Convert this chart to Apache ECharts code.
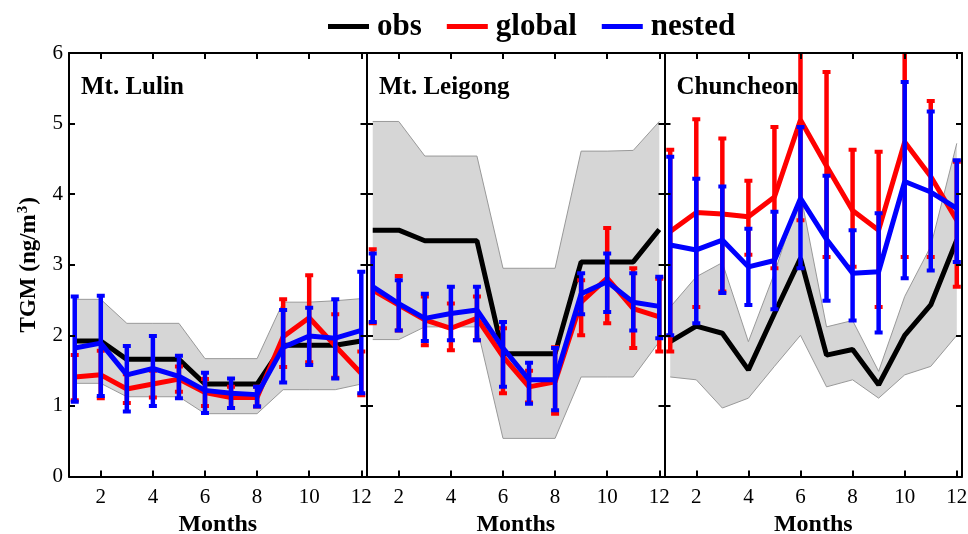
<!DOCTYPE html>
<html>
<head>
<meta charset="utf-8">
<script src="https://cdn.jsdelivr.net/npm/echarts@6/dist/echarts.min.js"></script>
<style>
  html, body { margin: 0; padding: 0; background: #fff; }
  #chart { width: 968px; height: 534px; }
</style>
</head>
<body>
<div id="chart"></div>
<script>
// Months and tick labels
var months = [1, 2, 3, 4, 5, 6, 7, 8, 9, 10, 11, 12];
var monthTicks = [2, 4, 6, 8, 10, 12];
var stations = ['Mt. Lulin', 'Mt. Leigong', 'Chuncheon'];

// Mt. Lulin
var lulinObs      = [1.92, 1.92, 1.66, 1.66, 1.66, 1.31, 1.31, 1.31, 1.86, 1.86, 1.86, 1.92];
var lulinObsHi    = [2.51, 2.51, 2.17, 2.17, 2.17, 1.67, 1.67, 1.67, 2.47, 2.47, 2.49, 2.52];
var lulinObsLo    = [1.32, 1.32, 1.13, 1.13, 1.13, 0.89, 0.89, 0.89, 1.23, 1.23, 1.23, 1.31];
var lulinGlobal   = [1.41, 1.44, 1.24, 1.31, 1.38, 1.19, 1.12, 1.12, 1.98, 2.25, 1.85, 1.46];
var lulinGlobalLo = [1.08, 1.11, 1.04, 1.12, 1.20, 1.00, 0.97, 0.99, 1.55, 1.62, 1.40, 1.15];
var lulinGlobalHi = [1.72, 1.78, 1.45, 1.50, 1.56, 1.38, 1.27, 1.27, 2.51, 2.85, 2.30, 1.77];
var lulinNested   = [1.82, 1.89, 1.44, 1.53, 1.42, 1.22, 1.18, 1.16, 1.83, 1.99, 1.96, 2.07];
var lulinNestedLo = [1.06, 1.14, 0.92, 1.00, 1.11, 0.90, 0.97, 0.99, 1.33, 1.58, 1.39, 1.18];
var lulinNestedHi = [2.55, 2.56, 1.85, 1.99, 1.71, 1.47, 1.39, 1.27, 2.36, 2.39, 2.51, 2.90];

// Mt. Leigong
var leigongObs      = [3.49, 3.49, 3.34, 3.34, 3.34, 1.74, 1.74, 1.74, 3.04, 3.04, 3.04, 3.50];
var leigongObsHi    = [5.03, 5.03, 4.54, 4.54, 4.54, 2.95, 2.95, 2.95, 4.61, 4.61, 4.62, 5.03];
var leigongObsLo    = [1.94, 1.94, 2.12, 2.12, 2.12, 0.54, 0.54, 0.54, 1.41, 1.41, 1.41, 1.91];
var leigongGlobal   = [2.64, 2.43, 2.22, 2.10, 2.24, 1.70, 1.27, 1.34, 2.47, 2.81, 2.38, 2.26];
var leigongGlobalLo = [2.17, 2.07, 1.86, 1.79, 1.93, 1.18, 1.05, 0.89, 2.00, 2.17, 1.82, 1.77];
var leigongGlobalHi = [3.22, 2.84, 2.55, 2.45, 2.55, 2.10, 1.50, 1.83, 2.78, 3.52, 2.95, 2.80];
var leigongNested   = [2.69, 2.45, 2.24, 2.31, 2.36, 1.82, 1.37, 1.37, 2.59, 2.76, 2.47, 2.41];
var leigongNestedLo = [2.19, 2.07, 1.92, 1.93, 1.93, 1.27, 1.03, 0.94, 2.30, 2.33, 2.07, 1.96];
var leigongNestedHi = [3.16, 2.78, 2.59, 2.69, 2.69, 2.19, 1.61, 1.82, 2.88, 3.16, 2.88, 2.83];

// Chuncheon
var chunObs      = [1.91, 2.13, 2.03, 1.51, 2.31, 3.09, 1.72, 1.80, 1.30, 2.00, 2.43, 3.35];
var chunObsHi    = [2.40, 2.83, 3.03, 1.91, 2.88, 4.01, 2.12, 2.21, 1.49, 2.55, 3.26, 4.72];
var chunObsLo    = [1.41, 1.37, 0.97, 1.11, 1.56, 2.00, 1.27, 1.37, 1.11, 1.44, 1.56, 2.00];
var chunGlobal   = [3.47, 3.74, 3.72, 3.68, 3.96, 5.05, 4.40, 3.77, 3.49, 4.74, 4.25, 3.63];
var chunGlobalLo = [1.77, 2.40, 2.62, 3.14, 2.95, 3.63, 3.11, 2.97, 2.40, 3.11, 3.11, 2.69];
var chunGlobalHi = [4.63, 5.06, 4.79, 4.19, 4.95, 6.40, 5.73, 4.63, 4.60, 6.30, 5.32, 4.46];
var chunNested   = [3.28, 3.21, 3.35, 2.97, 3.06, 3.94, 3.36, 2.88, 2.90, 4.18, 4.03, 3.80];
var chunNestedLo = [2.00, 2.17, 2.60, 2.43, 2.37, 2.95, 2.49, 2.21, 2.04, 2.81, 2.92, 3.04];
var chunNestedHi = [4.53, 4.22, 4.11, 3.51, 3.75, 4.95, 4.26, 3.49, 3.73, 5.59, 5.17, 4.48];

var panels = [
    {obs: lulinObs, obsHi: lulinObsHi, obsLo: lulinObsLo,
     glob: lulinGlobal, globLo: lulinGlobalLo, globHi: lulinGlobalHi,
     nest: lulinNested, nestLo: lulinNestedLo, nestHi: lulinNestedHi},
    {obs: leigongObs, obsHi: leigongObsHi, obsLo: leigongObsLo,
     glob: leigongGlobal, globLo: leigongGlobalLo, globHi: leigongGlobalHi,
     nest: leigongNested, nestLo: leigongNestedLo, nestHi: leigongNestedHi},
    {obs: chunObs, obsHi: chunObsHi, obsLo: chunObsLo,
     glob: chunGlobal, globLo: chunGlobalLo, globHi: chunGlobalHi,
     nest: chunNested, nestLo: chunNestedLo, nestHi: chunNestedHi}
];

var serif = "'Liberation Serif', 'Times New Roman', serif";
var gridLefts = [69, 367, 664.5];
var gridWidth = 297.5;

function pairs(ys) {
    return months.map(function (m, i) { return [m, ys[i]]; });
}
function triples(lo, hi) {
    return months.map(function (m, i) { return [m, lo[i], hi[i]]; });
}

// Vertical error bar with small square caps
function renderErrorBar(params, api) {
    var x = api.value(0);
    var pLo = api.coord([x, api.value(1)]);
    var pHi = api.coord([x, api.value(2)]);
    var color = api.visual('color');
    return {
        type: 'group',
        children: [
            {type: 'line', shape: {x1: pLo[0], y1: pLo[1], x2: pHi[0], y2: pHi[1]},
             style: {stroke: color, lineWidth: 4.5}},
            {type: 'rect', shape: {x: pHi[0] - 4, y: pHi[1] - 2, width: 8, height: 4},
             style: {fill: color}},
            {type: 'rect', shape: {x: pLo[0] - 4, y: pLo[1] - 2, width: 8, height: 4},
             style: {fill: color}}
        ]
    };
}

// Grey obs spread band, drawn once as a polygon from the lo/hi arrays
function bandRenderer(lo, hi) {
    return function (params, api) {
        if (params.dataIndex !== 0) return null;
        var upper = months.map(function (m, k) { return api.coord([m, hi[k]]); });
        var lower = months.map(function (m, k) { return api.coord([m, lo[k]]); });
        return {
            type: 'group',
            children: [
                {type: 'polygon', shape: {points: upper.concat(lower.slice().reverse())},
                 style: {fill: '#d6d6d6'}},
                {type: 'polyline', shape: {points: upper},
                 style: {stroke: '#999', lineWidth: 1, fill: null}},
                {type: 'polyline', shape: {points: lower},
                 style: {stroke: '#999', lineWidth: 1, fill: null}}
            ]
        };
    };
}

var grids = [], xAxes = [], yAxes = [], titles = [], series = [];

panels.forEach(function (p, i) {
    grids.push({
        left: gridLefts[i], width: gridWidth, top: 53, height: 423.5,
        outerBoundsMode: 'none', containLabel: false
    });

    titles.push({
        text: stations[i], left: gridLefts[i] + 12, top: 75, padding: 0,
        textStyle: {fontFamily: serif, fontSize: 25, fontWeight: 'bold', color: '#000'}
    });

    var tickStyle = {inside: true, length: 6, lineStyle: {color: '#000', width: 2}};
    var frame = {show: true, onZero: false, lineStyle: {color: '#000', width: 2}};

    // bottom + top x axes
    xAxes.push({
        type: 'value', gridIndex: i, min: 0.78, max: 12.2, position: 'bottom', z: 10,
        name: 'Months', nameLocation: 'middle', nameGap: 35,
        nameTextStyle: {fontFamily: serif, fontSize: 24, fontWeight: 'bold', color: '#000'},
        axisLine: frame, splitLine: {show: false},
        axisTick: Object.assign({customValues: monthTicks}, tickStyle),
        axisLabel: {customValues: monthTicks, margin: 10, fontFamily: serif, fontSize: 21, color: '#000'}
    });
    xAxes.push({
        type: 'value', gridIndex: i, min: 0.78, max: 12.2, position: 'top', z: 10,
        axisLine: frame, splitLine: {show: false},
        axisTick: Object.assign({customValues: monthTicks}, tickStyle),
        axisLabel: {show: false}
    });

    // left + right y axes
    yAxes.push({
        type: 'value', gridIndex: i, min: 0, max: 6, interval: 1, position: 'left', z: 10,
        name: i === 0 ? 'TGM (ng/m{sup|3})' : '', nameLocation: 'middle', nameGap: 27,
        nameTextStyle: {
            fontFamily: serif, fontSize: 23, fontWeight: 'bold', color: '#000',
            verticalAlign: 'bottom',
            rich: {
                sup: {fontFamily: serif, fontSize: 15, fontWeight: 'bold', color: '#000',
                      verticalAlign: 'bottom', padding: [0, 1, 11, 1]}
            }
        },
        axisLine: frame, splitLine: {show: false},
        axisTick: tickStyle,
        axisLabel: {show: i === 0, margin: 6, fontFamily: serif, fontSize: 21, color: '#000'}
    });
    yAxes.push({
        type: 'value', gridIndex: i, min: 0, max: 6, interval: 1, position: 'right', z: 10,
        axisLine: frame, splitLine: {show: false},
        axisTick: tickStyle, axisLabel: {show: false}
    });

    var ax = {xAxisIndex: 2 * i, yAxisIndex: 2 * i};

    series.push(Object.assign({
        type: 'custom', renderItem: bandRenderer(p.obsLo, p.obsHi), data: triples(p.obsLo, p.obsHi),
        encode: {x: 0, y: [1, 2]}, clip: true, silent: true, z: 1
    }, ax));

    series.push(Object.assign({
        type: 'line', name: 'obs', data: pairs(p.obs), showSymbol: false, z: 2,
        itemStyle: {color: '#000'}, lineStyle: {color: '#000', width: 5}
    }, ax));

    series.push(Object.assign({
        type: 'custom', renderItem: renderErrorBar, data: triples(p.globLo, p.globHi),
        encode: {x: 0, y: [1, 2]}, clip: true, z: 3, itemStyle: {color: '#ff0000'}
    }, ax));
    series.push(Object.assign({
        type: 'line', name: 'global', data: pairs(p.glob), showSymbol: false, z: 3,
        itemStyle: {color: '#ff0000'}, lineStyle: {color: '#ff0000', width: 5}
    }, ax));

    series.push(Object.assign({
        type: 'custom', renderItem: renderErrorBar, data: triples(p.nestLo, p.nestHi),
        encode: {x: 0, y: [1, 2]}, clip: true, z: 4, itemStyle: {color: '#0000ff'}
    }, ax));
    series.push(Object.assign({
        type: 'line', name: 'nested', data: pairs(p.nest), showSymbol: false, z: 4,
        itemStyle: {color: '#0000ff'}, lineStyle: {color: '#0000ff', width: 5}
    }, ax));
});

var chart = echarts.init(document.getElementById('chart'));
chart.setOption({
    animation: false,
    backgroundColor: '#fff',
    title: titles,
    legend: {
        data: ['obs', 'global', 'nested'],
        left: 328, top: 11, padding: 0,
        icon: 'rect', itemWidth: 41, itemHeight: 5, itemGap: 25,
        selectedMode: false,
        textStyle: {fontFamily: serif, fontSize: 31, fontWeight: 'bold', color: '#000',
                    padding: [0, 0, 0, 3]}
    },
    grid: grids,
    xAxis: xAxes,
    yAxis: yAxes,
    series: series
});
</script>
</body>
</html>
